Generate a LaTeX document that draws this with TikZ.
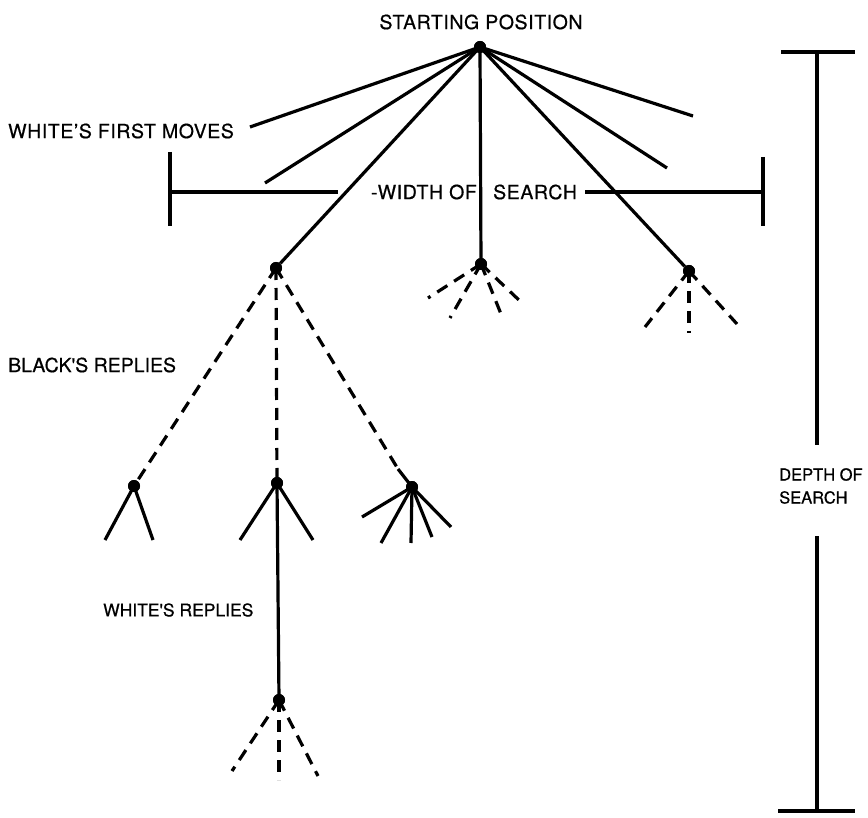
\documentclass[tikz,border=0pt]{standalone}
\usepackage{fontspec}
\setmainfont{TeX Gyre Heros}[LetterSpace=3,FakeBold=0.6]
\newfontfamily\tightfont{TeX Gyre Heros}[LetterSpace=0,FakeBold=0.6]
\begin{document}
\begin{tikzpicture}[x=1pt,y=-1pt,
  dotn/.style={circle,fill=black,inner sep=0pt,minimum size=12pt},
  solidln/.style={line width=3.2pt},
  dashln/.style={line width=3.2pt,dash pattern=on 12pt off 8pt},
  barln/.style={line width=3.2pt},
  lbl/.style={font=\fontsize{19.5}{23}\selectfont,inner sep=0pt},
  tlbl/.style={font=\tightfont\fontsize{#1}{23}\selectfont,inner sep=0pt}]
\useasboundingbox (0,0) rectangle (868,818);
% labels
\node[lbl] (tstart) at (481,22) {STARTING POSITION};
\node[lbl,anchor=west] (twfm) at (8,131) {WHITE'S FIRST MOVES};
\node[tlbl=19.5,anchor=west] (tbr) at (8,365) {BLACK'S REPLIES};
\node[tlbl=17.5,anchor=west] (twr) at (103,610) {WHITE'S REPLIES};
\node[lbl,anchor=east] (twof) at (477,192) {-WIDTH OF};
\node[lbl,anchor=west] (tsearch) at (493,192) {SEARCH};
\node[tlbl=16.5,align=left,anchor=west] (tdepth) at (779,486) {DEPTH OF\\SEARCH};
% nodes
\node[dotn] (root) at (480,47) {};
\node[dotn] (a) at (276,268) {};
\node[dotn] (b) at (481,264) {};
\node[dotn] (c) at (689,271) {};
\node[dotn] (d) at (134,486) {};
\node[dotn] (e) at (277,483) {};
\node[dotn] (f) at (412,487) {};
\node[dotn] (g) at (279,700) {};
% free ends
\coordinate (r1) at (250,127);
\coordinate (r2) at (265,183);
\coordinate (r6) at (667,168);
\coordinate (r7) at (693,116);
\coordinate (b1) at (428,298);
\coordinate (b2) at (450,318);
\coordinate (b3) at (501,314);
\coordinate (b4) at (521,302);
\coordinate (c1) at (645,327);
\coordinate (c2) at (689,333);
\coordinate (c3) at (737,324);
\coordinate (d1) at (105,540);
\coordinate (d2) at (153,540);
\coordinate (e1) at (240,540);
\coordinate (e2) at (313,540);
\coordinate (f0) at (398,469);
\coordinate (f1) at (362,517);
\coordinate (f2) at (381,543);
\coordinate (f3) at (411,543);
\coordinate (f4) at (432,537);
\coordinate (f5) at (451,527);
\coordinate (g1) at (232,771);
\coordinate (g2) at (279,780);
\coordinate (g3) at (318,776);
% first moves
\foreach \t in {r1,r2,a,b,c,r6,r7} \draw[solidln] (root.center) -- (\t);
% black replies
\draw[dashln] (a.center) -- (d.center);
\draw[dashln] (a.center) -- (e.center);
\draw[dashln] (a.center) -- (f0);
\draw[solidln] (f0) -- (f.center);
\foreach \t in {b1,b2,b3,b4} \draw[dashln] (b.center) -- (\t);
\foreach \t in {c1,c2,c3} \draw[dashln] (c.center) -- (\t);
% white replies
\foreach \t in {d1,d2} \draw[solidln] (d.center) -- (\t);
\foreach \t in {e1,e2} \draw[solidln] (e.center) -- (\t);
\draw[solidln] (e.center) -- (g.center);
\foreach \t in {f1,f2,f3,f4,f5} \draw[solidln] (f.center) -- (\t);
\foreach \t in {g1,g2,g3} \draw[dashln] (g.center) -- (\t);
% width bar
\coordinate (wl) at (170,192);
\coordinate (wl2) at (338,192);
\coordinate (wr1) at (585,192);
\coordinate (wr) at (763,192);
\draw[barln] (170,152) -- (170,226);
\draw[barln] (763,157) -- (763,226);
\draw[barln] (wl) -- (wl2);
\draw[barln] (wr1) -- (wr);
% depth bar
\coordinate (dt) at (817,52);
\coordinate (db) at (817,811);
\draw[barln] (781,52) -- (855,52);
\draw[barln] (778,811) -- (855,811);
\draw[barln] (dt) -- (817,445);
\draw[barln] (817,536) -- (db);
% dots on top
\foreach \n in {root,a,b,c,d,e,f,g} \fill (\n.center) circle (6pt);
\end{tikzpicture}
\end{document}
